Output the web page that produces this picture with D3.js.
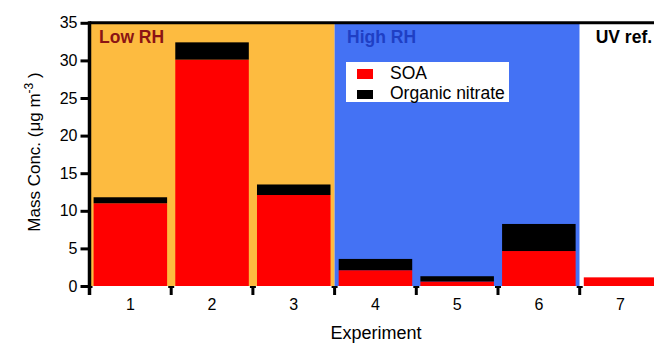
<!DOCTYPE html>
<html><head><meta charset="utf-8">
<script src="https://cdn.jsdelivr.net/npm/d3@7"></script>
<style>body{margin:0;background:#fff;}svg{display:block;font-family:"Liberation Sans",Arial,sans-serif;}</style>
</head><body>
<script>
const experiments = ["1","2","3","4","5","6","7"];
const soa = [11.0, 30.1, 12.1, 2.1, 0.6, 4.65, 1.15];
const nitrate = [0.8, 2.3, 1.4, 1.5, 0.7, 3.6, 0.0];
const yTicks = [0,5,10,15,20,25,30,35];
const regions = [
  {label:"Low RH", from:"1", to:"3", fill:"#FDBB40", color:"#8B1414", dx:9.5},
  {label:"High RH", from:"4", to:"6", fill:"#4472F4", color:"#1F3FC4", dx:12.5},
  {label:"UV ref.", from:"7", to:"7", fill:"#FFFFFF", color:"#000000", dx:16}
];
const W=654,H=343;
const svg=d3.select("body").append("svg").attr("width",W).attr("height",H);
const x0=89.5, bw=81.7;
const x=d3.scaleBand().domain(experiments).range([x0,x0+bw*experiments.length]).paddingInner(0.1).paddingOuter(0.05);
const y=d3.scaleLinear().domain([0,35]).range([286,22.8]);
const band=x.step();
const left=d=>x0+experiments.indexOf(d)*band;

// regions
regions.forEach(r=>{
  const a=left(r.from), b=left(r.to)+band;
  svg.append("rect").attr("x",a).attr("y",y(35)).attr("width",b-a).attr("height",y(0)-y(35)).attr("fill",r.fill);
  svg.append("text").attr("x",a+r.dx).attr("y",42.5).attr("font-size",17.5).attr("font-weight","bold").attr("fill",r.color).text(r.label);
});

// bars
const g=svg.append("g");
experiments.forEach((e,i)=>{
  g.append("rect").attr("x",x(e)).attr("width",x.bandwidth()).attr("y",y(soa[i])).attr("height",y(0)-y(soa[i])).attr("fill","#FF0000");
  if(nitrate[i]>0) g.append("rect").attr("x",x(e)).attr("width",x.bandwidth()).attr("y",y(soa[i]+nitrate[i])).attr("height",y(soa[i])-y(soa[i]+nitrate[i])).attr("fill","#000");
});

// top border
svg.append("line").attr("x1",x0).attr("x2",W).attr("y1",y(35)).attr("y2",y(35)).attr("stroke","#000").attr("stroke-width",3);

// y axis
const ya=svg.append("g").attr("transform",`translate(${x0},0)`).call(d3.axisLeft(y).tickValues(yTicks).tickSize(9).tickPadding(3).tickSizeOuter(0));
ya.select(".domain").attr("stroke-width",3.5);
ya.selectAll(".tick line").attr("stroke-width",3);
ya.selectAll("text").attr("font-size",16).attr("fill","#000");
ya.select(".domain").attr("d",`M0,${y(0)+9}V${y(35)-1.5}`);

// x axis ticks at band boundaries
d3.range(experiments.length+1).forEach(i=>{
  const xx=x0+i*band;
  svg.append("line").attr("x1",xx).attr("x2",xx).attr("y1",y(0)).attr("y2",y(0)+9).attr("stroke","#000").attr("stroke-width",3);
  svg.append("line").attr("x1",xx-3).attr("x2",xx+3).attr("y1",y(0)+1).attr("y2",y(0)+1).attr("stroke","#000").attr("stroke-width",2);
});
experiments.forEach(e=>{
  svg.append("text").attr("x",x(e)+x.bandwidth()/2).attr("y",309.5).attr("text-anchor","middle").attr("font-size",16).text(e);
});

// axis titles
svg.append("text").attr("x",376).attr("y",338.5).attr("text-anchor","middle").attr("font-size",18).text("Experiment");
const yl=svg.append("text").attr("transform","translate(40,152) rotate(-90)").attr("text-anchor","middle").attr("font-size",17);
yl.append("tspan").text("Mass Conc. (μg m");
yl.append("tspan").attr("dy",-7).attr("font-size",12).text("-3");
yl.append("tspan").attr("dy",7).text(" )");

// legend
const lg=svg.append("g");
lg.append("rect").attr("x",346).attr("y",62).attr("width",163).attr("height",40).attr("fill","#fff");
lg.append("rect").attr("x",357).attr("y",69).attr("width",16).attr("height",10).attr("fill","#FF0000");
lg.append("rect").attr("x",357).attr("y",90).attr("width",16).attr("height",9).attr("fill","#000");
lg.append("text").attr("x",390).attr("y",79).attr("font-size",17.5).text("SOA");
lg.append("text").attr("x",390).attr("y",99).attr("font-size",17.5).text("Organic nitrate");
</script>
</body></html>
